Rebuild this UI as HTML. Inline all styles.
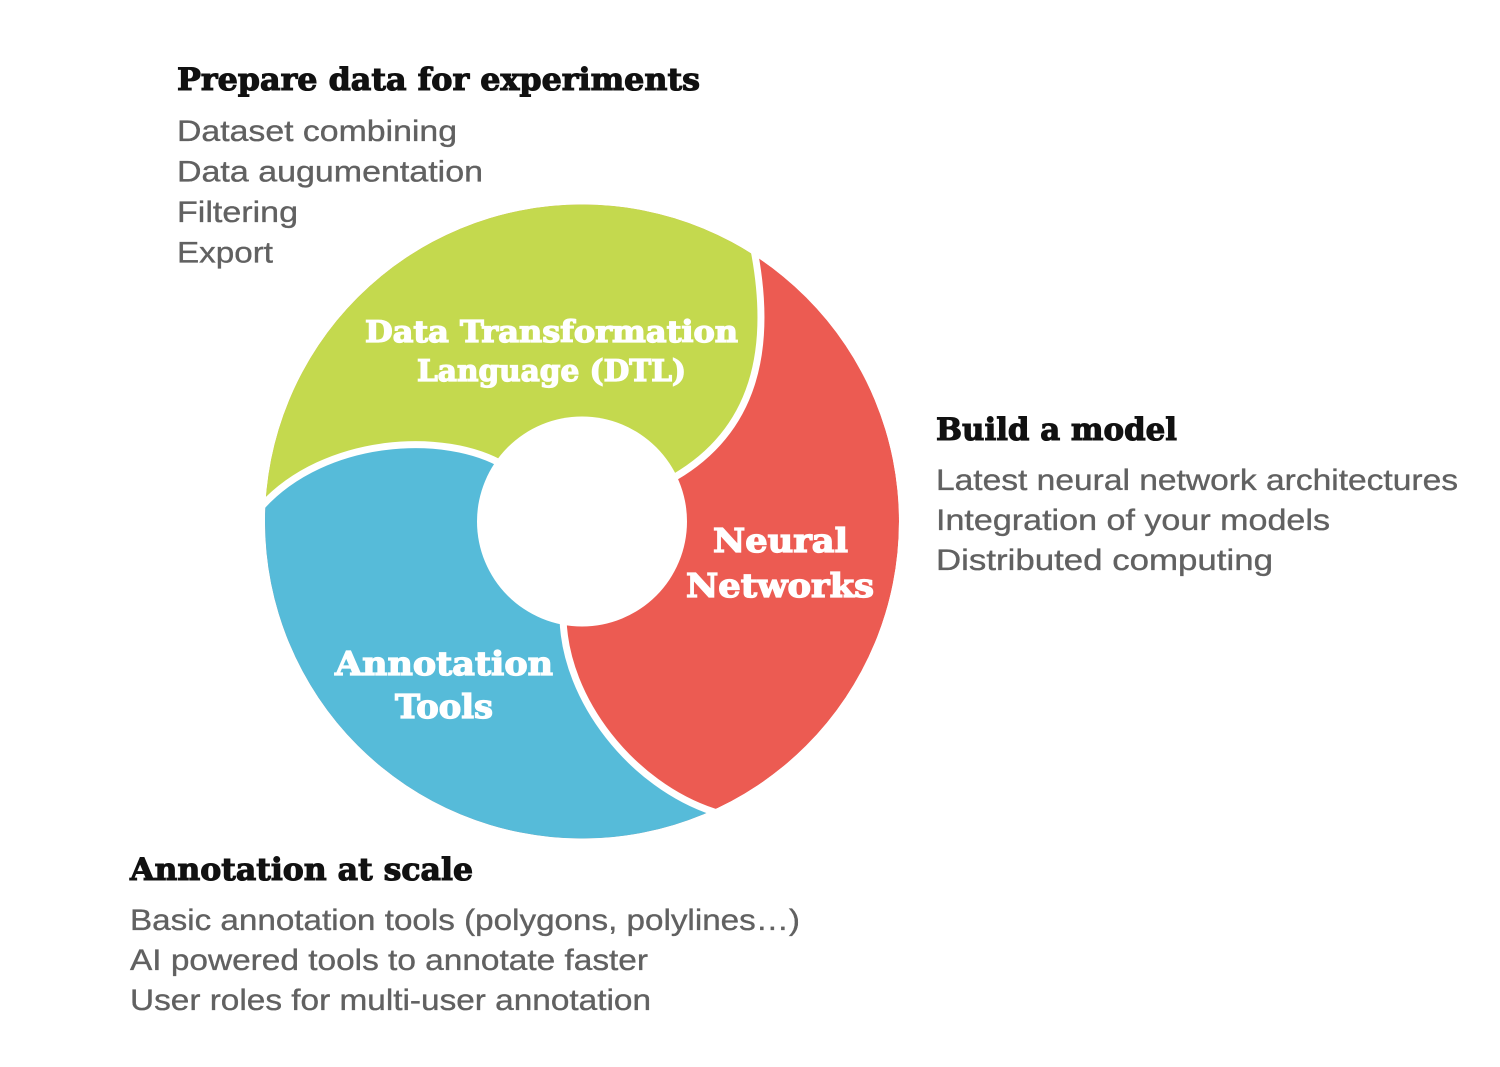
<!DOCTYPE html>
<html>
<head>
<meta charset="utf-8">
<style>
  html, body { margin: 0; padding: 0; background: #ffffff; }
  svg { display: block; }
  .h { font-family: "DejaVu Serif", "Liberation Serif", serif; font-weight: bold; fill: #111111; stroke: #111111; stroke-width: 1.1; }
  .b { font-family: "Liberation Sans", "DejaVu Sans", sans-serif; fill: #616161; stroke: #616161; stroke-width: 0.35; }
  .l { font-family: "DejaVu Serif", "Liberation Serif", serif; font-weight: bold; fill: #ffffff; stroke: #ffffff; stroke-width: 1.3; }
</style>
</head>
<body>
<svg width="1500" height="1067" viewBox="0 0 1500 1067" xmlns="http://www.w3.org/2000/svg">
  <defs>
    <clipPath id="outer">
      <circle cx="582" cy="521.5" r="317"/>
    </clipPath>
  </defs>

  <!-- Ring -->
  <g clip-path="url(#outer)">
    <circle cx="582" cy="521.5" r="317" fill="#EC5B52"/>
    <path fill="#C4D94E" d="M 262,506 C 325,437 445,430 505,466 L 582,521 L 675,477 C 755,430 772,350 755,255 L 800,150 L 200,150 L 150,520 Z"/>
    <path fill="#56BBD9" d="M 714,812 C 632,785 565,700 563,618 L 582,521 L 505,466 C 445,430 325,437 262,506 L 150,520 L 150,950 L 750,950 Z"/>
  </g>

  <!-- white separators -->
  <g fill="none" stroke="#ffffff" stroke-width="7">
    <path d="M 753,245 L 755,255 C 772,350 755,430 675,477"/>
    <path d="M 563,618 C 565,700 632,785 714,812 L 724,815"/>
    <path d="M 254,513 L 262,506 C 325,437 445,430 505,466"/>
  </g>

  <!-- inner hole -->
  <circle cx="582" cy="521.5" r="105" fill="#ffffff"/>

  <!-- Ring labels -->
  <text class="l" x="365" y="342" font-size="30" textLength="373" lengthAdjust="spacingAndGlyphs">Data Transformation</text>
  <text class="l" x="417" y="381" font-size="30" textLength="269" lengthAdjust="spacingAndGlyphs">Language (DTL)</text>

  <text class="l" x="713" y="552" font-size="33" textLength="135" lengthAdjust="spacingAndGlyphs">Neural</text>
  <text class="l" x="686" y="597" font-size="33" textLength="188" lengthAdjust="spacingAndGlyphs">Networks</text>

  <text class="l" x="335" y="675" font-size="33" textLength="218" lengthAdjust="spacingAndGlyphs">Annotation</text>
  <text class="l" x="395" y="718" font-size="33" textLength="98" lengthAdjust="spacingAndGlyphs">Tools</text>

  <!-- Prepare data -->
  <text class="h" x="177" y="90" font-size="31" textLength="523" lengthAdjust="spacingAndGlyphs">Prepare data for experiments</text>
  <text class="b" x="177" y="141" font-size="30" textLength="280" lengthAdjust="spacingAndGlyphs">Dataset combining</text>
  <text class="b" x="177" y="181.5" font-size="30" textLength="306" lengthAdjust="spacingAndGlyphs">Data augumentation</text>
  <text class="b" x="177" y="222" font-size="30" textLength="121" lengthAdjust="spacingAndGlyphs">Filtering</text>
  <text class="b" x="177" y="262.5" font-size="30" textLength="96" lengthAdjust="spacingAndGlyphs">Export</text>

  <!-- Build a model -->
  <text class="h" x="936" y="440" font-size="31" textLength="241" lengthAdjust="spacingAndGlyphs">Build a model</text>
  <text class="b" x="936" y="490" font-size="30" textLength="522" lengthAdjust="spacingAndGlyphs">Latest neural network architectures</text>
  <text class="b" x="936" y="530" font-size="30" textLength="394" lengthAdjust="spacingAndGlyphs">Integration of your models</text>
  <text class="b" x="936" y="570" font-size="30" textLength="337" lengthAdjust="spacingAndGlyphs">Distributed computing</text>

  <!-- Annotation at scale -->
  <text class="h" x="130" y="880" font-size="31" textLength="343" lengthAdjust="spacingAndGlyphs">Annotation at scale</text>
  <text class="b" x="130" y="930" font-size="30" textLength="670" lengthAdjust="spacingAndGlyphs">Basic annotation tools (polygons, polylines…)</text>
  <text class="b" x="130" y="970" font-size="30" textLength="518" lengthAdjust="spacingAndGlyphs">AI powered tools to annotate faster</text>
  <text class="b" x="130" y="1010" font-size="30" textLength="521" lengthAdjust="spacingAndGlyphs">User roles for multi-user annotation</text>
</svg>
</body>
</html>
